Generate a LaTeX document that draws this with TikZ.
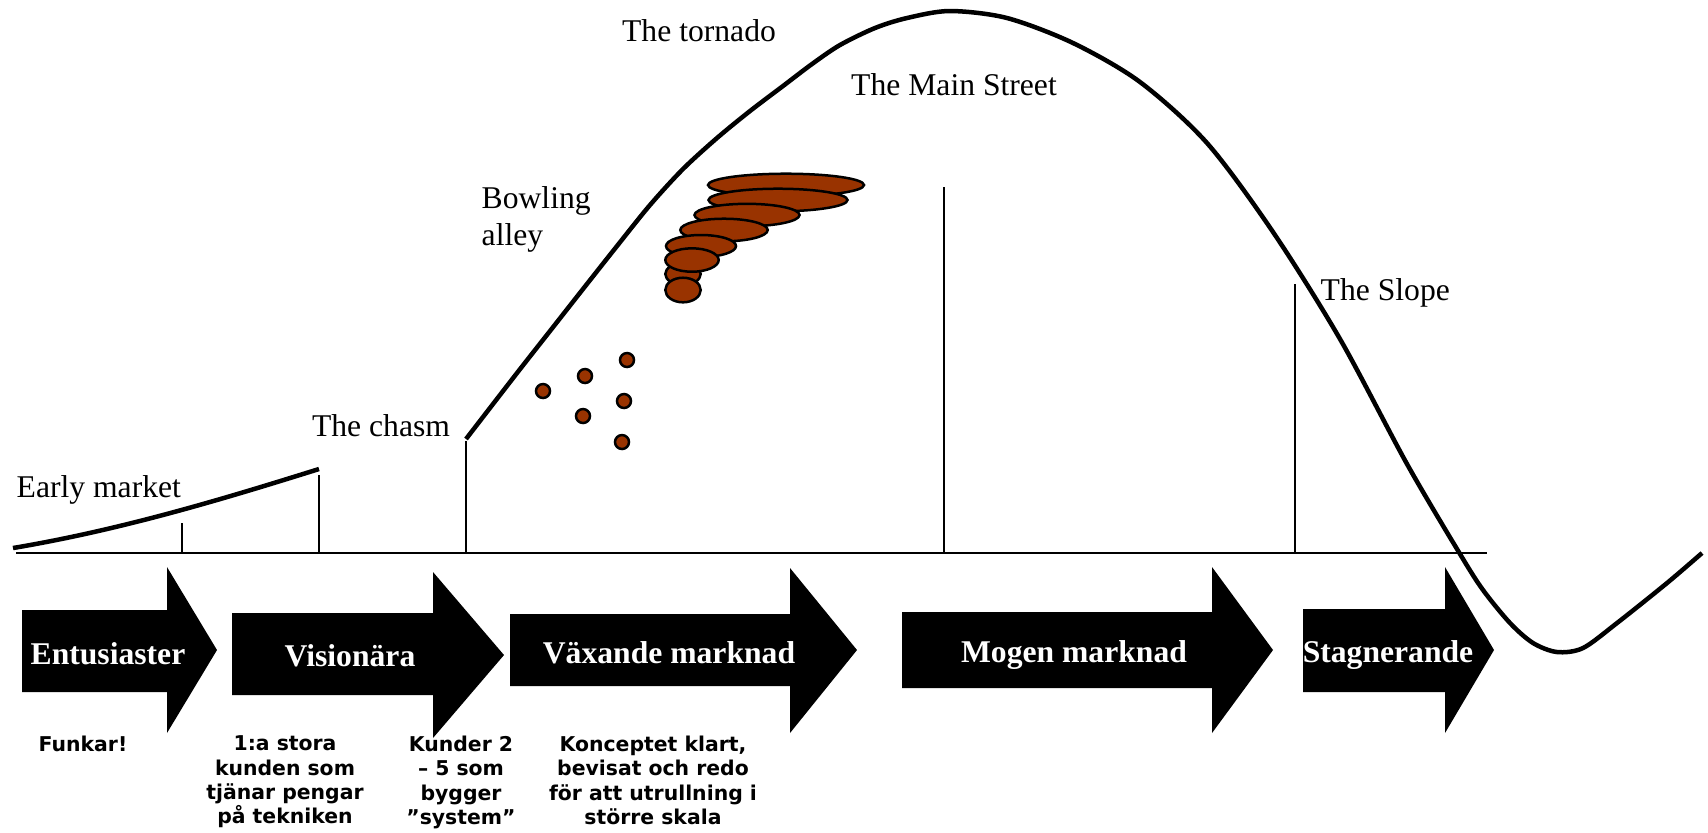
\documentclass[tikz,border=0pt]{standalone}
\usepackage{fontspec}
\setmainfont{Liberation Serif}
\newfontfamily\notefont{DejaVu Sans}
\usetikzlibrary{calc}
\definecolor{tornado}{RGB}{153,51,0}
\def\phasearrow(#1:#2:#3)(#4:#5)(#6:#7:#8){\fill (#1,#4) -- (#2,#4) -- (#2,#6) -- (#3,#8) -- (#2,#7) -- (#2,#5) -- (#1,#5) -- cycle;}

\begin{document}
\begin{tikzpicture}[x=0.1mm, y=-0.1mm,
		curvetext/.style={inner sep=0, font=\fontsize{9}{10.5}\selectfont},
		phasetext/.style={inner sep=0, anchor=base, text=white, font=\fontsize{9}{10.5}\selectfont\bfseries},
		notetext/.style={inner sep=0, anchor=north, align=center, font=\notefont\bfseries\fontsize{5.8}{6.95}\selectfont},
		stageline/.style={line width=0.2mm},
		swirl/.style={draw=black, line width=0.25mm, fill=tornado}]
			%%%%% START %%%%%
			\useasboundingbox (0,0) rectangle (1708,832);
			
			\draw[line width=0.25mm] (16,553) -- (1487,553);
			
			\draw[line width=0.45mm] (13,548) .. controls (120,530) and (220,500) .. (319,469);
			\draw[stageline] (182,523) -- (182,553);
			\draw[stageline] (319,475) -- (319,553);
			\draw[stageline] (466,441) -- (466,553);
			\draw[stageline] (944,187) -- (944,553);
			\draw[stageline] (1295,284) -- (1295,553);
			
			\draw[line width=0.45mm, line join=round] plot[smooth, tension=0.5] coordinates {
				(466,439) (517,373) (550,331) (583,289) (617,246) (650,205) (683,169) (717,138)
				(750,111) (783,86) (812,64) (840,45) (875,28) (907,18) (950,11)
				(1007,18) (1073,43) (1140,82) (1207,143) (1273,232) (1340,339) (1407,464) (1460,554)
				(1483,590) (1510,623) (1533,643) (1557,652) (1583,648) (1617,623) (1667,583) (1702,553)};
			
			\draw[swirl] (786,185) ellipse (78 and 11.3);
			\draw[swirl] (778,200) ellipse (69.5 and 11.3);
			\draw[swirl] (747,215) ellipse (52.5 and 11.2);
			\draw[swirl] (724,230) ellipse (43.7 and 11.3);
			\draw[swirl] (701,246) ellipse (35 and 11);
			\draw[swirl] (683,274) ellipse (17.7 and 11);
			\draw[swirl] (692,260) ellipse (26.7 and 11.7);
			\draw[swirl] (683,290) ellipse (17.7 and 12.3);
			
			\draw[swirl] (543,391) circle (7);
			\draw[swirl] (585,376) circle (7);
			\draw[swirl] (627,360) circle (7);
			\draw[swirl] (583,416) circle (7);
			\draw[swirl] (624,401) circle (7);
			\draw[swirl] (622,442) circle (7);
			
			\node[curvetext, anchor=base] (tornadotxt) at (699,41) {The tornado};
			\node[curvetext, anchor=base] (mainstreet) at (954,95) {The Main Street};
			\node[curvetext, anchor=north west, align=left] (bowling) at (481,186) {Bowling\\alley};
			\node[curvetext, anchor=base west] (slope) at (1320,300) {The Slope};
			\node[curvetext, anchor=base] (chasm) at (381,436) {The chasm};
			\node[curvetext, anchor=base west] (early) at (16,497) {Early market};
			
			\phasearrow(22:167:217)(610:692)(567:733:650)
			\phasearrow(232:433:504)(613:695)(572:738:655)
			\phasearrow(510:790:857)(614:686)(568:733:650)
			\phasearrow(902:1212:1273)(612:688)(567:733:650)
			\phasearrow(1303:1445:1494)(609:692)(567:733:650)
			
			\node[phasetext] (entusiaster) at (108,664) {Entusiaster};
			\node[phasetext] (visionara) at (350,666) {Visionära};
			\node[phasetext] (vaxande) at (669,663) {Växande marknad};
			\node[phasetext] (mogen) at (1074,662) {Mogen marknad};
			\node[phasetext] (stagnerande) at (1388,662) {Stagnerande};
			
			\node[notetext] (funkar) at (83,735) {Funkar!};
			\node[notetext] (forsta) at (285,735) {1:a stora\\kunden som\\tjänar pengar\\på tekniken};
			\node[notetext] (kunder) at (461,735) {Kunder 2\\– 5 som\\bygger\\”system”};
			\node[notetext] (konceptet) at (653,735) {Konceptet klart,\\bevisat och redo\\för att utrullning i\\större skala};
			
			%%%%% END %%%%%
\end{tikzpicture}
\end{document}
